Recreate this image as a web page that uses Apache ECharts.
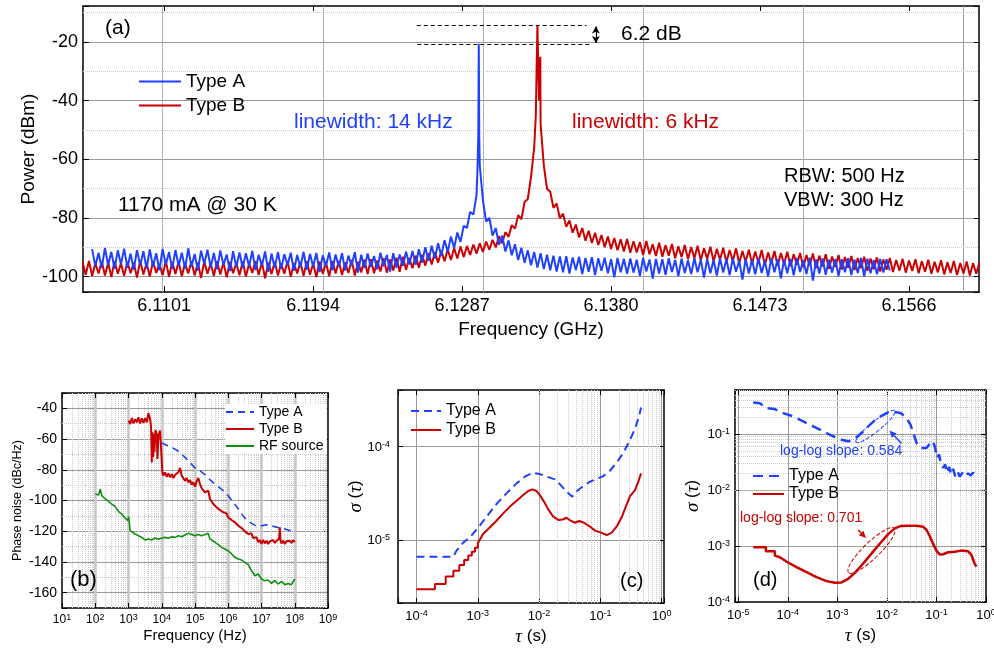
<!DOCTYPE html>
<html><head><meta charset="utf-8">
<script src="https://cdn.jsdelivr.net/npm/echarts@6/dist/echarts.min.js"></script>
<style>html,body{margin:0;padding:0;background:#fff}#c{width:994px;height:648px}</style>
</head><body><div id="c"></div>
<script>
// ---------------- Panel (a): spectrum ----------------
const freqGHz = [
6.1050,6.1052,6.1054,6.1056,6.1058,6.1060,6.1062,6.1064,6.1066,6.1068,
6.1070,6.1072,6.1074,6.1076,6.1078,6.1080,6.1082,6.1084,6.1086,6.1088,
6.1090,6.1092,6.1094,6.1096,6.1098,6.1100,6.1102,6.1104,6.1106,6.1108,
6.1110,6.1112,6.1114,6.1116,6.1118,6.1120,6.1122,6.1124,6.1126,6.1128,
6.1130,6.1132,6.1134,6.1136,6.1138,6.1140,6.1142,6.1144,6.1146,6.1148,
6.1150,6.1152,6.1154,6.1156,6.1158,6.1160,6.1162,6.1164,6.1166,6.1168,
6.1170,6.1172,6.1174,6.1176,6.1178,6.1180,6.1182,6.1184,6.1186,6.1188,
6.1190,6.1192,6.1194,6.1196,6.1198,6.1200,6.1202,6.1204,6.1206,6.1208,
6.1210,6.1212,6.1214,6.1216,6.1218,6.1220,6.1222,6.1224,6.1226,6.1228,
6.1230,6.1232,6.1234,6.1236,6.1238,6.1240,6.1242,6.1244,6.1246,6.1248,
6.1250,6.1252,6.1254,6.1256,6.1258,6.1260,6.1262,6.1264,6.1266,6.1268,
6.1270,6.1272,6.1274,6.1276,6.1278,6.1280,6.1282,6.1284,6.1286,6.1288,
6.1290,6.1292,6.1294,6.1296,6.1298,6.1300,6.1302,6.1304,6.1306,6.1308,
6.1310,6.1312,6.1314,6.1316,6.1318,6.1320,6.1322,6.1324,6.1326,6.1328,
6.1330,6.1332,6.1334,6.1336,6.1338,6.1340,6.1342,6.1344,6.1346,6.1348,
6.1350,6.1352,6.1354,6.1356,6.1358,6.1360,6.1362,6.1364,6.1366,6.1368,
6.1370,6.1372,6.1374,6.1376,6.1378,6.1380,6.1382,6.1384,6.1386,6.1388,
6.1390,6.1392,6.1394,6.1396,6.1398,6.1400,6.1402,6.1404,6.1406,6.1408,
6.1410,6.1412,6.1414,6.1416,6.1418,6.1420,6.1422,6.1424,6.1426,6.1428,
6.1430,6.1432,6.1434,6.1436,6.1438,6.1440,6.1442,6.1444,6.1446,6.1448,
6.1450,6.1452,6.1454,6.1456,6.1458,6.1460,6.1462,6.1464,6.1466,6.1468,
6.1470,6.1472,6.1474,6.1476,6.1478,6.1480,6.1482,6.1484,6.1486,6.1488,
6.1490,6.1492,6.1494,6.1496,6.1498,6.1500,6.1502,6.1504,6.1506,6.1508,
6.1510,6.1512,6.1514,6.1516,6.1518,6.1520,6.1522,6.1524,6.1526,6.1528,
6.1530,6.1532,6.1534,6.1536,6.1538,6.1540,6.1542,6.1544,6.1546,6.1548,
6.1550,6.1552,6.1554,6.1556,6.1558,6.1560,6.1562,6.1564,6.1566,6.1568,
6.1570,6.1572,6.1574,6.1576,6.1578,6.1580,6.1582,6.1584,6.1586,6.1588,
6.1590,6.1592,6.1594,6.1596,6.1598,6.1600,6.1602,6.1604,6.1606,6.1608,
6.1610];

const powerTypeA = [
null,null,null,-90.6,-96.4,-91.8,-97.0,-90.2,-96.1,-91.5,
-97.3,-91.0,-95.8,-90.4,-96.9,-92.1,-97.6,-90.9,-96.2,-91.3,
-97.1,-90.7,-96.5,-92.0,-97.8,-90.5,-95.9,-91.6,-97.4,-90.9,
-96.3,-91.8,-97.2,-90.3,-96.6,-92.2,-97.9,-91.1,-95.7,-90.8,
-96.8,-91.9,-97.5,-91.0,-96.0,-92.4,-98.1,-91.3,-96.7,-91.7,
-97.0,-92.0,-96.4,-91.2,-97.7,-92.5,-96.2,-91.4,-98.3,-92.1,
-96.9,-91.6,-97.4,-92.3,-96.1,-91.8,-98.0,-92.6,-96.8,-91.5,
-97.6,-92.2,-96.5,-91.9,-98.4,-92.7,-96.3,-91.7,-97.8,-92.4,
-96.6,-92.0,-97.9,-92.8,-96.2,-91.6,-98.6,-92.5,-97.0,-92.1,
-96.7,-92.9,-97.5,-91.8,-96.4,-92.6,-98.2,-92.0,-96.9,-92.4,
-96.3,-91.5,-95.8,-91.2,-95.9,-90.6,-95.2,-89.9,-94.6,-89.4,
-93.8,-88.6,-92.9,-87.5,-91.6,-86.3,-90.2,-84.9,-88.1,-82.6,
-83.4,-77.9,-78.8,-72.0,-62.0,-74.0,-81.2,-79.9,-86.0,-83.4,
-89.1,-86.0,-91.4,-87.6,-92.7,-88.9,-94.3,-90.1,-95.2,-91.0,
-96.1,-91.6,-96.9,-92.0,-97.4,-92.5,-97.8,-92.8,-98.2,-93.1,
-98.5,-93.0,-98.9,-93.4,-97.7,-93.2,-99.1,-93.6,-98.3,-93.3,
-99.4,-93.7,-98.0,-93.5,-98.8,-94.0,-100.2,-93.6,-98.5,-93.9,
-99.0,-93.8,-98.6,-94.2,-99.7,-93.5,-98.2,-94.1,-100.6,-93.9,
-98.9,-94.0,-99.3,-93.7,-98.4,-94.3,-99.8,-93.8,-98.7,-94.4,
-99.1,-93.6,-98.5,-94.1,-100.3,-93.9,-98.8,-94.2,-99.6,-93.7,
-98.6,-94.0,-99.4,-93.8,-98.3,-94.5,-101.0,-93.9,-98.9,-94.2,
-99.2,-93.7,-98.7,-94.6,-99.9,-93.8,-98.5,-94.0,-100.5,-94.3,
-98.8,-93.9,-99.5,-93.6,-98.4,-94.4,-99.1,-93.5,-101.3,-94.1,
-98.9,-93.8,-99.3,-94.2,-98.6,-93.9,-99.8,-94.0,-98.5,-93.7,
-99.4,-94.1,-98.7,-93.6,-99.9,-93.8,-98.8,-94.3,-99.2,-93.9,
-98.6,-94.0,-97.9,null,null,null,null,null,null,null,
null,null,null,null,null,null,null,null,null,null,
null,null,null,null,null,null,null,null,null,null,
null];

const powerTypeB = [
-95.0,-99.3,-94.6,-99.8,-95.4,-98.9,-94.8,-99.6,-95.2,-100.1,
-94.7,-99.0,-95.5,-99.7,-94.9,-98.8,-95.1,-100.3,-94.5,-99.2,
-95.3,-99.9,-94.8,-98.7,-95.6,-99.5,-94.6,-100.0,-95.0,-99.1,
-94.9,-99.8,-95.4,-98.9,-94.7,-99.6,-95.2,-100.4,-94.8,-99.0,
-95.5,-99.7,-94.6,-99.2,-95.1,-100.2,-94.9,-98.8,-95.3,-99.5,
-94.8,-99.9,-95.6,-98.7,-94.7,-99.4,-95.0,-100.5,-95.2,-99.1,
-94.9,-99.6,-95.4,-99.0,-94.6,-100.0,-95.3,-98.9,-95.0,-99.7,
-94.7,-99.3,-95.5,-100.1,-94.8,-99.0,-95.2,-99.8,-94.6,-98.9,
-94.6,-99.4,-95.1,-98.7,-94.3,-99.6,-94.9,-98.5,-94.2,-99.1,
-94.0,-98.8,-94.5,-98.2,-93.7,-98.6,-94.1,-97.9,-93.5,-98.3,
-93.2,-97.6,-93.6,-97.1,-92.8,-96.9,-92.5,-96.2,-92.0,-95.8,
-91.6,-95.2,-91.1,-94.7,-90.6,-94.3,-90.2,-93.8,-89.7,-93.3,
-89.5,-92.6,-89.0,-92.1,-88.6,-91.5,-88.0,-90.8,-87.4,-90.0,
-86.2,-88.6,-84.8,-86.4,-82.4,-83.6,-79.0,-80.4,-74.5,-73.5,
-66.0,-56.0,-14.4,-48.0,-62.0,-70.0,-71.0,-76.5,-75.0,-80.0,
-78.5,-83.0,-80.8,-85.0,-82.2,-86.6,-83.4,-87.7,-84.3,-88.5,
-85.0,-89.2,-85.8,-89.9,-86.3,-90.5,-86.8,-91.0,-87.2,-91.4,
-87.1,-91.8,-87.9,-91.7,-88.2,-92.6,-87.8,-92.3,-88.9,-92.9,
-88.4,-93.2,-89.3,-92.8,-88.8,-93.7,-89.6,-93.3,-89.2,-94.0,
-89.9,-93.7,-89.4,-94.4,-90.3,-93.9,-89.8,-94.8,-90.5,-94.2,
-90.1,-95.1,-90.9,-94.6,-90.4,-95.4,-91.2,-94.9,-90.8,-95.6,
-91.4,-95.2,-90.9,-96.0,-91.7,-95.4,-91.2,-96.3,-91.9,-95.7,
-91.5,-96.4,-92.3,-95.9,-91.9,-96.8,-92.6,-96.2,-92.1,-97.0,
-92.8,-96.5,-92.3,-97.3,-93.1,-96.7,-92.6,-97.5,-93.3,-96.9,
-92.9,-97.7,-93.6,-97.1,-93.2,-98.0,-93.8,-97.4,-93.4,-98.2,
-94.1,-97.6,-93.6,-98.4,-94.3,-97.9,-93.9,-98.6,-94.5,-98.0,
-94.0,-98.8,-94.7,-98.3,-94.2,-99.0,-94.9,-98.5,-94.4,-99.2,
-95.1,-98.7,-94.6,-99.4,-95.3,-98.9,-94.8,-99.6,-95.4,-99.0,
-95.0];

// extra samples on the narrow carrier peaks
const peakFreqA  = [6.12966, 6.12971, 6.12974, 6.12977];
const peakPowerA = [-63, -52, -20.6, -52];
const peakFreqB  = [6.13330, 6.13350, 6.13358];
const peakPowerB = [-45, -40, -25];

const freqTicksGHz = [6.1101, 6.1194, 6.1287, 6.1380, 6.1473, 6.1566];
const freqMinorGHz = [6.10545, 6.11475, 6.12405, 6.13335, 6.14265, 6.15195];
const powerMinor = [-10, -30, -50, -70, -90];

// ---------------- Panel (b): phase noise ----------------
const pnFreqA = [1e4,1.5e4,2e4,3e4,5e4,7e4,1e5,1.5e5,2e5,3e5,5e5,7e5,1e6,1.5e6,2e6,3e6,5e6,7e6,1e7,1.5e7,2e7,3e7,5e7,7e7,1e8];
const pnTypeA = [-62.5,-64.3,-65.4,-67.6,-71.9,-75.2,-78.8,-81.0,-83.2,-87.1,-91.0,-93.6,-96.9,-101.8,-105.5,-111.0,-114.9,-116.8,-116.4,-115.7,-116.4,-117.5,-118.6,-119.6,-119.2];

const pnFreqB = [1000,1122,1259,1413,1585,1778,1995,2239,2512,2818,3162,3548,
3981,4467,4786,5012,5248,5495,5754,6026,6457,7079,7413,7943,8913,9772,
10471,11220,12589,14125,15849,17783,19953,22387,25119,28184,31623,35481,39811,44668,50119,56234,63096,70795,79433,89125,
1.0e5,1.122e5,1.259e5,1.413e5,1.585e5,1.778e5,1.995e5,2.239e5,2.512e5,2.818e5,3.162e5,3.548e5,3.981e5,4.467e5,5.012e5,5.623e5,6.310e5,7.079e5,7.943e5,8.913e5,
1.0e6,1.122e6,1.259e6,1.413e6,1.585e6,1.778e6,1.995e6,2.239e6,2.512e6,2.818e6,3.162e6,3.548e6,3.981e6,4.467e6,5.012e6,5.623e6,6.310e6,7.079e6,7.943e6,8.913e6,
1.0e7,1.122e7,1.259e7,1.413e7,1.585e7,1.778e7,1.995e7,2.239e7,2.512e7,2.818e7,3.162e7,3.388e7,3.548e7,3.715e7,3.981e7,4.467e7,5.012e7,5.623e7,6.310e7,7.079e7,7.943e7,8.913e7,1.0e8];
const pnTypeB = [-48.0,-50.2,-46.3,-49.8,-47.0,-49.1,-45.9,-49.8,-46.5,-49.5,-46.3,-49.1,
-43.0,-47.0,-52.4,-75.2,-55.6,-71.9,-56.7,-68.6,-54.2,-56.7,-73.0,-57.8,-54.5,-55.6,
-81.7,-83.8,-81.7,-84.5,-82.3,-84.9,-82.8,-85.4,-83.2,-84.3,-81.7,-78.8,-83.8,-84.9,-87.1,-85.4,-88.2,-86.7,-89.7,-88.2,
-91.0,-87.5,-85.4,-89.3,-91.9,-91.0,-94.7,-95.8,-93.6,-99.0,-100.5,-102.3,-101.8,-104.5,-104.0,-106.2,-105.5,-107.7,-108.8,-108.4,
-111.0,-110.5,-112.7,-112.0,-114.2,-113.6,-116.4,-115.3,-117.9,-117.5,-120.1,-119.2,-121.8,-122.9,-121.4,-124.4,-125.7,-124.0,-127.2,-125.7,
-128.3,-125.7,-127.9,-126.2,-128.3,-126.6,-127.9,-125.7,-127.7,-126.2,-127.2,-125.0,-117.5,-125.7,-127.9,-126.2,-128.3,-126.6,-127.9,-126.2,-127.7,-125.7,-127.2];

const pnFreqRF = [100,110,126,141,158,178,200,250,316,400,500,630,790,950,1000,1060,1120,1260,1580,
2000,2500,3160,4000,5000,6300,7900,1e4,1.26e4,1.58e4,2e4,2.5e4,3.16e4,4e4,5e4,6.3e4,7.9e4,
1e5,1.26e5,1.58e5,2e5,2.5e5,2.8e5,3.16e5,4e5,5e5,6.3e5,7.9e5,1e6,1.26e6,1.58e6,2e6,2.5e6,3.16e6,4e6,5e6,6.3e6,7.9e6,
1e7,1.26e7,1.58e7,2e7,2.5e7,3.16e7,4e7,5e7,6.3e7,7.9e7,1e8];
const pnRF = [-95.8,-96.9,-96.4,-92.5,-96.9,-98.0,-99.0,-100.5,-102.3,-104.0,-107.1,-108.8,-111.4,-113.1,-110.5,-114.2,-119.6,-120.7,-121.8,
-122.9,-124.0,-125.7,-125.0,-125.7,-124.4,-125.2,-124.4,-124.0,-124.6,-123.6,-124.0,-122.9,-123.6,-122.5,-121.4,-122.2,
-122.9,-122.2,-122.9,-122.2,-121.4,-125.0,-124.4,-127.2,-128.8,-130.5,-131.6,-132.7,-134.8,-137.0,-138.1,-138.7,-140.3,-141.8,-145.7,-149.0,-147.9,
-151.1,-152.2,-151.8,-154.0,-152.2,-154.4,-152.6,-154.8,-154.0,-154.8,-151.1];

// ---------------- Panel (c): Allan deviation ----------------
const tauC_A = [1e-4,4.0e-4,4.5e-4,5.78e-4,7.62e-4,1.02e-3,1.39e-3,2.02e-3,2.94e-3,4.30e-3,5.87e-3,7.83e-3,
1.03e-2,1.36e-2,1.81e-2,2.25e-2,2.81e-2,3.48e-2,4.20e-2,5.26e-2,6.76e-2,8.69e-2,0.112,0.143,0.184,0.237,0.304,0.367,0.427,0.460];
const sigmaC_A = [6.62e-6,6.62e-6,7.69e-6,9.36e-6,1.09e-5,1.36e-5,1.78e-5,2.43e-5,3.16e-5,4.05e-5,4.77e-5,5.26e-5,
5.09e-5,4.77e-5,4.47e-5,3.88e-5,3.30e-5,2.91e-5,3.38e-5,3.79e-5,4.22e-5,4.51e-5,4.85e-5,5.53e-5,6.74e-5,8.62e-5,1.18e-4,1.57e-4,2.10e-4,2.64e-4];
const tauC_B = [1e-4,2e-4,2e-4,3e-4,3e-4,4e-4,4e-4,5e-4,5e-4,6e-4,6e-4,7e-4,7e-4,8e-4,8e-4,9e-4,9e-4,1e-3,1e-3,
1.22e-3,1.57e-3,2.02e-3,2.60e-3,3.34e-3,4.30e-3,5.51e-3,6.65e-3,7.83e-3,9.10e-3,
1.03e-2,1.20e-2,1.41e-2,1.70e-2,2.06e-2,2.42e-2,2.81e-2,3.27e-2,3.85e-2,4.53e-2,5.40e-2,6.59e-2,8.16e-2,
0.102,0.127,0.153,0.184,0.222,0.262,0.304,0.367,0.416,0.460];
const sigmaC_B = [2.96e-6,2.96e-6,3.38e-6,3.38e-6,4.05e-6,4.05e-6,4.69e-6,4.69e-6,5.40e-6,5.40e-6,6.11e-6,6.11e-6,6.80e-6,6.80e-6,7.50e-6,7.50e-6,8.28e-6,8.28e-6,9.21e-6,
1.16e-5,1.36e-5,1.61e-5,1.93e-5,2.28e-5,2.64e-5,3.03e-5,3.35e-5,3.49e-5,3.35e-5,
3.03e-5,2.58e-5,2.13e-5,1.78e-5,1.64e-5,1.66e-5,1.73e-5,1.61e-5,1.53e-5,1.60e-5,1.53e-5,1.41e-5,1.26e-5,
1.20e-5,1.13e-5,1.20e-5,1.39e-5,1.75e-5,2.31e-5,2.96e-5,3.43e-5,4.22e-5,5.18e-5];

// ---------------- Panel (d): Allan deviation ----------------
const tauD_A = [2.01e-5,2.74e-5,3.73e-5,5.48e-5,8.08e-5,1.29e-4,2.05e-4,3.26e-4,5.18e-4,8.24e-4,
1.21e-3,1.65e-3,2.25e-3,3.07e-3,4.18e-3,5.70e-3,7.78e-3,
1.06e-2,1.44e-2,1.88e-2,2.41e-2,2.99e-2,3.49e-2,4.08e-2,4.98e-2,6.28e-2,7.57e-2,8.57e-2,9.40e-2,
0.103,0.113,0.122,0.136,0.150,0.164,0.180,0.198,0.217,0.238,0.265,0.296,0.334,0.378,0.435,0.492,0.548,0.593];
const sigmaD_A = [0.365,0.355,0.290,0.278,0.236,0.206,0.168,0.137,0.111,0.091,
0.079,0.074,0.0815,0.104,0.137,0.175,0.211,
0.243,0.246,0.236,0.200,0.147,0.0973,0.0647,0.0564,0.0564,0.0692,0.074,0.0564,
0.0375,0.0430,0.0306,0.0249,0.0286,0.0203,0.0259,0.0190,0.0239,0.0177,0.0217,0.0173,0.0203,0.0177,0.0198,0.0182,0.0203,0.0190];
const tauD_B = [2.01e-5,3.61e-5,3.61e-5,5.48e-5,5.48e-5,6.92e-5,9.89e-5,1.50e-4,2.39e-4,3.80e-4,6.05e-4,8.91e-4,
1.21e-3,1.65e-3,2.25e-3,3.07e-3,4.18e-3,5.70e-3,7.78e-3,
1.06e-2,1.44e-2,1.88e-2,2.68e-2,3.95e-2,5.39e-2,6.28e-2,7.34e-2,8.57e-2,
0.100,0.117,0.136,0.172,0.234,0.319,0.435,0.508,0.593,0.641];
const sigmaD_B = [9.46e-4,9.46e-4,8.04e-4,8.04e-4,6.73e-4,6.29e-4,5.13e-4,4.18e-4,3.41e-4,2.78e-4,2.36e-4,2.20e-4,
2.23e-4,2.59e-4,3.32e-4,4.48e-4,6.21e-4,8.61e-4,1.19e-3,
1.63e-3,2.06e-3,2.27e-3,2.29e-3,2.29e-3,2.20e-3,1.95e-3,1.49e-3,1.09e-3,
8.27e-4,7.02e-4,7.13e-4,7.73e-4,7.90e-4,8.27e-4,8.04e-4,6.92e-4,4.79e-4,4.29e-4];

// ---------------- styling / helpers ----------------
const FONT = '"Liberation Sans", Arial, Helvetica, sans-serif';
const SERIF = '"Liberation Serif", "Times New Roman", serif';
const BLUE = '#2040ff', RED = '#cc0000', GREEN = '#109010';
const MAJOR = '#9a9a9a', MINOR = '#c9c9c9';

function pairs(xs, ys) {
  const out = [];
  const n = Math.min(xs.length, ys.length);
  for (let i = 0; i < n; i++) if (ys[i] !== null) out.push([xs[i], ys[i]]);
  return out;
}
function merged(xs, ys, pxs, pys) {
  return pairs(xs, ys).concat(pairs(pxs, pys)).sort((a, b) => a[0] - b[0]);
}
function pow10Label(v) {
  const e = Math.log10(v), r = Math.round(e);
  if (Math.abs(e - r) > 1e-6) return '';
  return '{b|10}{s|' + r + '}';
}
function powRich(fs) {
  return {
    b: {fontSize: fs, fontFamily: FONT, color: '#000', verticalAlign: 'bottom', lineHeight: fs + 1},
    s: {fontSize: Math.round(fs * 0.72), fontFamily: FONT, color: '#000', verticalAlign: 'top', lineHeight: 9, padding: [0, 0, 6, 0]}
  };
}
function logMinor(lo, hi) {
  const out = [];
  for (let e = Math.floor(Math.log10(lo)); e <= Math.ceil(Math.log10(hi)); e++)
    for (let k = 2; k <= 9; k++) { const v = k * Math.pow(10, e); if (v > lo * 1.0001 && v < hi * 0.9999) out.push(v); }
  return out;
}
const AXLINE = {show: true, onZero: false, lineStyle: {color: '#000', width: 1.5}};
const NOLABEL = {show: false};
function mirror(grid, type, min, max, pos, extraTick) {
  return {gridIndex: grid, type: type, min: min, max: max, position: pos,
    axisLine: AXLINE, axisTick: Object.assign({show: true, inside: true, length: 5, lineStyle: {color: '#000'}}, extraTick || {}),
    axisLabel: NOLABEL, splitLine: {show: false}, minorTick: {show: false}};
}
function gridSeries(name, xi, yi, items, style) {
  return {name: name, type: 'line', xAxisIndex: xi, yAxisIndex: yi, data: [], silent: true, z: 1,
    markLine: {silent: true, symbol: 'none', animation: false, label: {show: false}, z: 1,
      lineStyle: style, emphasis: {disabled: true}, data: items}};
}

const R = {
  a: {x: [6.10503, 6.16097], y: [-105.2, -7.7]},
  b: {x: [10, 1e9], y: [-170, -30]},
  c: {x: [5e-5, 1.09], y: [2.11e-6, 4.06e-4]},
  d: {x: [8.6e-6, 1], y: [1e-4, 0.61]}
};

const specA = merged(freqGHz, powerTypeA, peakFreqA, peakPowerA);
const specB = merged(freqGHz, powerTypeB, peakFreqB, peakPowerB);
const topA = Math.max.apply(null, specA.map(d => d[1]));
const topB = Math.max.apply(null, specB.map(d => d[1]));

const chart = echarts.init(document.getElementById('c'), null, {renderer: 'canvas'});

function logAxisMain(grid, r, fs, margin, pos, extra) {
  return Object.assign({gridIndex: grid, type: 'log', logBase: 10, min: r[0], max: r[1], position: pos,
    axisLine: AXLINE,
    axisTick: {show: true, inside: true, length: 5, lineStyle: {color: '#000'}},
    axisLabel: {formatter: pow10Label, rich: powRich(fs), margin: margin, color: '#000', fontFamily: FONT, fontSize: fs},
    splitLine: {show: true, showMinLine: false, showMaxLine: false, lineStyle: {color: MAJOR, width: 1}},
    minorTick: {show: false}, nameMoveOverlap: false}, extra || {});
}
const LEG_COMMON = {orient: 'vertical', itemHeight: 12, padding: 0, selectedMode: false,
  itemStyle: {opacity: 0, borderWidth: 0}, formatter: n => n.split('#')[0]};

const option = {
  animation: false,
  backgroundColor: '#fff',
  textStyle: {fontFamily: FONT},
  grid: [
    {left: 83, top: 6, width: 896, height: 286, containLabel: false, outerBoundsMode: 'none'},
    {left: 62, top: 393, width: 266, height: 215, containLabel: false, outerBoundsMode: 'none'},
    {left: 398, top: 390, width: 266, height: 213, containLabel: false, outerBoundsMode: 'none'},
    {left: 735, top: 390, width: 251, height: 212, containLabel: false, outerBoundsMode: 'none'}
  ],
  xAxis: [
    {gridIndex: 0, type: 'value', min: R.a.x[0], max: R.a.x[1], position: 'bottom', axisLine: AXLINE,
      axisTick: {show: true, inside: true, length: 6, customValues: freqTicksGHz, lineStyle: {color: '#000'}},
      axisLabel: {customValues: freqTicksGHz, formatter: v => v.toFixed(4), fontSize: 18, color: '#000', margin: 5, fontFamily: FONT},
      splitLine: {show: false},
      name: 'Frequency (GHz)', nameLocation: 'middle', nameGap: 28, nameMoveOverlap: false,
      nameTextStyle: {fontSize: 19, color: '#000', fontFamily: FONT}},
    mirror(0, 'value', R.a.x[0], R.a.x[1], 'top', {customValues: freqTicksGHz}),
    logAxisMain(1, R.b.x, 12, 5, 'bottom', {name: 'Frequency (Hz)', nameLocation: 'middle', nameGap: 20,
      nameTextStyle: {fontSize: 15, color: '#000', fontFamily: FONT},
      splitLine: {show: true, showMinLine: false, showMaxLine: false, lineStyle: {color: '#c6c6c6', width: 2.5}}}),
    mirror(1, 'log', R.b.x[0], R.b.x[1], 'top'),
    logAxisMain(2, R.c.x, 13, 6, 'bottom', {name: '{i|τ} (s)', nameLocation: 'middle', nameGap: 24,
      nameTextStyle: {fontSize: 17, color: '#000', fontFamily: FONT, rich: {i: {fontStyle: 'italic', fontFamily: SERIF, fontSize: 19}}}}),
    mirror(2, 'log', R.c.x[0], R.c.x[1], 'top'),
    logAxisMain(3, R.d.x, 13, 6, 'bottom', {name: '{i|τ} (s)', nameLocation: 'middle', nameGap: 24,
      nameTextStyle: {fontSize: 17, color: '#000', fontFamily: FONT, rich: {i: {fontStyle: 'italic', fontFamily: SERIF, fontSize: 19}}}}),
    mirror(3, 'log', R.d.x[0], R.d.x[1], 'top')
  ],
  yAxis: [
    {gridIndex: 0, type: 'value', min: R.a.y[0], max: R.a.y[1], position: 'left', axisLine: AXLINE,
      axisTick: {show: true, inside: true, length: 6, lineStyle: {color: '#000'}},
      axisLabel: {formatter: v => (Math.abs(v % 20) < 1e-9 ? String(v) : ''), fontSize: 18, color: '#000', margin: 5, fontFamily: FONT},
      splitLine: {show: true, showMinLine: false, showMaxLine: false, lineStyle: {color: MAJOR, width: 1}},
      name: 'Power (dBm)', nameLocation: 'middle', nameGap: 45, nameMoveOverlap: false,
      nameTextStyle: {fontSize: 19, color: '#000', fontFamily: FONT}},
    mirror(0, 'value', R.a.y[0], R.a.y[1], 'right'),
    {gridIndex: 1, type: 'value', min: R.b.y[0], max: R.b.y[1], splitNumber: 7, position: 'left', axisLine: AXLINE,
      axisTick: {show: true, inside: true, length: 5, lineStyle: {color: '#000'}},
      axisLabel: {formatter: v => (Math.abs(v % 20) < 1e-9 ? String(v) : ''), fontSize: 14, color: '#000', margin: 5, fontFamily: FONT},
      splitLine: {show: true, showMinLine: false, showMaxLine: false, lineStyle: {color: MAJOR, width: 1}},
      name: 'Phase noise (dBc/Hz)', nameLocation: 'middle', nameGap: 38, nameMoveOverlap: false,
      nameTextStyle: {fontSize: 12.5, color: '#000', fontFamily: FONT}},
    mirror(1, 'value', R.b.y[0], R.b.y[1], 'right'),
    logAxisMain(2, R.c.y, 13, 8, 'left', {name: '{i|σ} ({i|τ})', nameLocation: 'middle', nameGap: 33,
      nameTextStyle: {fontSize: 17, color: '#000', fontFamily: FONT, rich: {i: {fontStyle: 'italic', fontFamily: SERIF, fontSize: 19}}}}),
    mirror(2, 'log', R.c.y[0], R.c.y[1], 'right'),
    logAxisMain(3, R.d.y, 13, 5, 'left', {name: '{i|σ} ({i|τ})', nameLocation: 'middle', nameGap: 33,
      nameTextStyle: {fontSize: 17, color: '#000', fontFamily: FONT, rich: {i: {fontStyle: 'italic', fontFamily: SERIF, fontSize: 19}}}}),
    mirror(3, 'log', R.d.y[0], R.d.y[1], 'right')
  ],
  legend: [
    Object.assign({}, LEG_COMMON, {data: ['Type A', 'Type B'], left: 138, top: 72, itemWidth: 42, itemGap: 5,
      lineStyle: {width: 2}, textStyle: {fontSize: 19, color: '#000', fontFamily: FONT}}),
    Object.assign({}, LEG_COMMON, {data: ['Type A#b', 'Type B#b', 'RF source'], left: 225, top: 404, itemWidth: 28, itemGap: 3,
      padding: [1, 3, 1, 0], backgroundColor: '#fff', textStyle: {fontSize: 14, color: '#000', fontFamily: FONT}}),
    Object.assign({}, LEG_COMMON, {data: ['Type A#c', 'Type B#c'], left: 410, top: 403, itemWidth: 30, itemGap: 3,
      textStyle: {fontSize: 16, color: '#000', fontFamily: FONT}}),
    Object.assign({}, LEG_COMMON, {data: ['Type A#d', 'Type B#d'], left: 752, top: 468, itemWidth: 31, itemGap: 2,
      textStyle: {fontSize: 16, color: '#000', fontFamily: FONT}})
  ],
  series: [
    // grid lines
    gridSeries('_ga', 0, 0,
      freqTicksGHz.map(v => ({xAxis: v, lineStyle: {color: MAJOR, width: 1, type: 'solid'}}))
        .concat(freqMinorGHz.map(v => ({xAxis: v, lineStyle: {color: MINOR, width: 1, type: 'dotted'}})))
        .concat(powerMinor.map(v => ({yAxis: v, lineStyle: {color: MINOR, width: 1, type: 'dotted'}}))),
      {color: MINOR, width: 1, type: 'dotted'}),
    gridSeries('_gb', 2, 2,
      logMinor(R.b.x[0], R.b.x[1]).map(v => ({xAxis: v})).concat([-150, -130, -110, -90, -70, -50].map(v => ({yAxis: v}))),
      {color: MINOR, width: 1, type: 'dotted'}),
    gridSeries('_gc', 4, 4,
      logMinor(R.c.x[0], R.c.x[1]).map(v => ({xAxis: v})).concat(logMinor(R.c.y[0], R.c.y[1]).map(v => ({yAxis: v}))),
      {color: MINOR, width: 1, type: 'dotted'}),
    gridSeries('_gd', 6, 6,
      logMinor(R.d.x[0], R.d.x[1]).map(v => ({xAxis: v})).concat(logMinor(R.d.y[0], R.d.y[1]).map(v => ({yAxis: v}))),
      {color: MINOR, width: 1, type: 'dotted'}),
    // panel (a)
    {name: 'Type B', type: 'line', xAxisIndex: 0, yAxisIndex: 0, data: specB, symbol: 'none', color: RED,
      lineStyle: {color: RED, width: 2}, z: 10,
      markLine: {silent: true, symbol: 'none', label: {show: false}, animation: false,
        lineStyle: {color: '#000', width: 1, type: [4, 3]},
        data: [
          [{coord: [6.12587, topB]}, {coord: [6.13646, topB]}],
          [{coord: [6.12590, topA]}, {coord: [6.13678, topA]}]
        ]}},
    {name: 'Type A', type: 'line', xAxisIndex: 0, yAxisIndex: 0, data: specA, symbol: 'none', color: BLUE,
      lineStyle: {color: BLUE, width: 2}, z: 11,
      markLine: {silent: true, symbol: ['arrow', 'arrow'], symbolSize: [6, 7], label: {show: false}, animation: false,
        lineStyle: {color: '#000', width: 1.2, type: 'solid'},
        data: [[{coord: [6.13705, topB - 0.3]}, {coord: [6.13705, topA + 0.3]}]]}},
    // panel (b)
    {name: 'Type A#b', type: 'line', xAxisIndex: 2, yAxisIndex: 2, data: pairs(pnFreqA, pnTypeA), symbol: 'none', color: BLUE,
      lineStyle: {color: BLUE, width: 1.6, type: [7, 5]}, z: 12},
    {name: 'Type B#b', type: 'line', xAxisIndex: 2, yAxisIndex: 2, data: pairs(pnFreqB, pnTypeB), symbol: 'none', color: RED,
      lineStyle: {color: RED, width: 2}, z: 11},
    {name: 'RF source', type: 'line', xAxisIndex: 2, yAxisIndex: 2, data: pairs(pnFreqRF, pnRF), symbol: 'none', color: GREEN,
      lineStyle: {color: GREEN, width: 1.6}, z: 10},
    // panel (c)
    {name: 'Type A#c', type: 'line', xAxisIndex: 4, yAxisIndex: 4, data: pairs(tauC_A, sigmaC_A), symbol: 'none', color: BLUE,
      lineStyle: {color: BLUE, width: 2, type: [8, 5]}, z: 10},
    {name: 'Type B#c', type: 'line', xAxisIndex: 4, yAxisIndex: 4, data: pairs(tauC_B, sigmaC_B), symbol: 'none', color: RED,
      lineStyle: {color: RED, width: 2}, z: 11},
    // panel (d)
    {name: 'Type A#d', type: 'line', xAxisIndex: 6, yAxisIndex: 6, data: pairs(tauD_A, sigmaD_A), symbol: 'none', color: BLUE,
      lineStyle: {color: BLUE, width: 2.5, type: [10, 6]}, z: 10},
    {name: 'Type B#d', type: 'line', xAxisIndex: 6, yAxisIndex: 6, data: pairs(tauD_B, sigmaD_B), symbol: 'none', color: RED,
      lineStyle: {color: RED, width: 2.5}, z: 11}
  ]
};

function txt(x, y, s, size, color, extra) {
  return Object.assign({type: 'text', x: x, y: y, silent: true, z: 50,
    style: {text: s, fill: color || '#000', font: size + 'px ' + FONT, textVerticalAlign: 'middle', textAlign: 'left'}}, extra || {});
}
function arrow(x0, y0, x1, y1, color) {
  const a = Math.atan2(y1 - y0, x1 - x0), L = 7, W = 3.2;
  const bx = x1 - L * Math.cos(a), by = y1 - L * Math.sin(a);
  const px = -Math.sin(a) * W, py = Math.cos(a) * W;
  return [
    {type: 'line', silent: true, z: 50, shape: {x1: x0, y1: y0, x2: bx, y2: by}, style: {stroke: color, lineWidth: 1.5}},
    {type: 'polygon', silent: true, z: 50, shape: {points: [[x1, y1], [bx + px, by + py], [bx - px, by - py]]}, style: {fill: color}}
  ];
}
function ell(cx, cy, rx, ry, deg, color) {
  return {type: 'ellipse', x: cx, y: cy, rotation: deg * Math.PI / 180, silent: true, z: 50,
    shape: {cx: 0, cy: 0, rx: rx, ry: ry}, style: {fill: null, stroke: color, lineWidth: 1, lineDash: [4, 2]}};
}

option.graphic = {elements: [
  txt(105, 28, '(a)', 21),
  txt(294, 122, 'linewidth: 14 kHz', 21, BLUE),
  txt(572, 122, 'linewidth: 6 kHz', 21, RED),
  txt(118, 205, '1170 mA @ 30 K', 21),
  txt(784, 176, 'RBW: 500 Hz', 20),
  txt(784, 200, 'VBW: 300 Hz', 20),
  txt(621, 34, '6.2 dB', 21),
  txt(70, 580, '(b)', 22),
  txt(620, 581, '(c)', 20),
  txt(753, 580, '(d)', 20),
  txt(780, 451, 'log-log slope: 0.584', 14, BLUE),
  txt(740, 518, 'log-log slope: 0.701', 14, RED),
  ell(875.5, 426.5, 25, 5, 39, BLUE),
  ell(871.5, 550.5, 32, 8, 44, RED)
].concat(arrow(901.5, 443.5, 889.5, 430.5, BLUE)).concat(arrow(858.3, 530, 866, 538, RED))};

chart.setOption(option);
</script></body></html>
